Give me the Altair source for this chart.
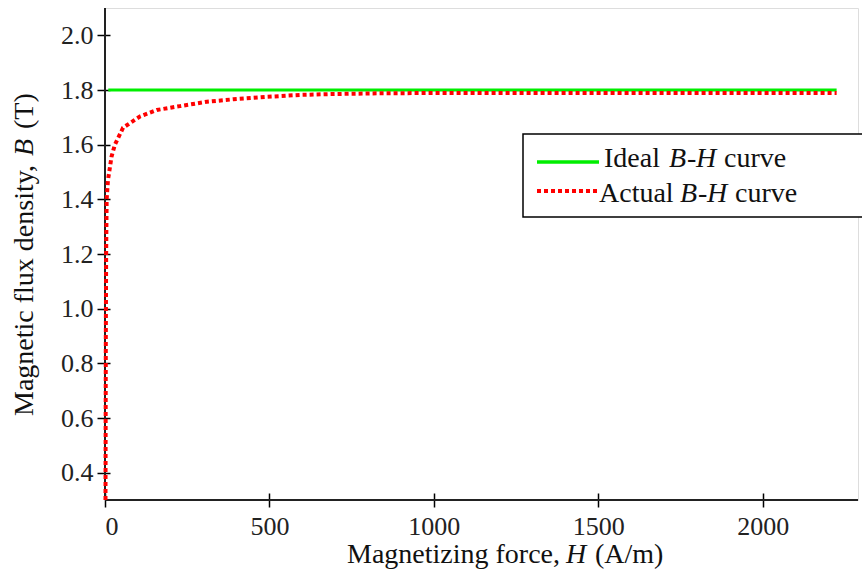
import altair as alt
import pandas as pd

# Magnetising force H (A/m) and flux density B (T)
ideal_H = [10, 2225]
ideal_B = [1.8, 1.8]

actual_H = [1.5, 2, 2.5, 3.5, 5, 9, 20, 30, 55, 106, 158, 228, 310, 390,
            492, 593, 684, 836, 1000, 1500, 2000, 2225]
actual_B = [0.30, 0.60, 0.90, 1.20, 1.40, 1.47, 1.557, 1.60, 1.662, 1.703,
            1.727, 1.741, 1.757, 1.766, 1.775, 1.782, 1.785, 1.788, 1.789,
            1.789, 1.789, 1.789]

x_ticks = [0, 500, 1000, 1500, 2000]
y_ticks = [0.4, 0.6, 0.8, 1.0, 1.2, 1.4, 1.6, 1.8, 2.0]

series_names = ["Ideal B-H curve", "Actual B-H curve"]
series_colors = ["#00ee00", "#ff0000"]

df = pd.concat([
    pd.DataFrame({"H": ideal_H, "B": ideal_B, "series": series_names[0], "order": range(len(ideal_H))}),
    pd.DataFrame({"H": actual_H, "B": actual_B, "series": series_names[1], "order": range(len(actual_H))}),
])

FONT = "Liberation Serif"
INK = "#111"
W, H = 753, 492

xs = alt.Scale(domain=[0, 2290], nice=False, zero=False)
ys = alt.Scale(domain=[0.3, 2.1], nice=False, zero=False)

# ticks cross the axis line: axes are shifted inward and the ticks lengthened
x_axis = alt.Axis(values=x_ticks, format="d", domain=False, grid=False, tickSize=14, offset=-7,
                  tickColor="black", tickWidth=1.5, labelFont=FONT, labelFontSize=26,
                  labelColor="#222", labelPadding=6, title=None)
y_axis = alt.Axis(values=y_ticks, format=".1f", domain=False, grid=False, tickSize=13, offset=-5,
                  tickColor="black", tickWidth=1.5, labelFont=FONT, labelFontSize=26,
                  labelColor="#222", labelPadding=4, title=None)

lines = alt.Chart(df).mark_line(clip=False).encode(
    x=alt.X("H:Q", scale=xs, axis=x_axis),
    y=alt.Y("B:Q", scale=ys, axis=y_axis),
    color=alt.Color("series:N", scale=alt.Scale(domain=series_names, range=series_colors), legend=None),
    strokeDash=alt.StrokeDash("series:N", scale=alt.Scale(domain=series_names, range=[[1, 0], [4, 3]]),
                              legend=None),
    strokeWidth=alt.StrokeWidth("series:N", scale=alt.Scale(domain=series_names, range=[3, 4]),
                                legend=None),
    detail="series:N",
    order="order:Q",
)

# axis lines
frame = pd.DataFrame({"H0": [0], "B0": [0.3]})
y_line = alt.Chart(frame).mark_rule(color="#222", strokeWidth=2).encode(x=alt.X("H0:Q", scale=xs))
x_line = alt.Chart(frame).mark_rule(color="#222", strokeWidth=2).encode(y=alt.Y("B0:Q", scale=ys))


def words(text, x, y, italic=False, size=28, angle=0):
    """A run of text; italic runs carry the symbols B and H."""
    props = dict(text=text, font=FONT, fontSize=size, align="left", baseline="alphabetic",
                 color=INK, fontStyle="italic" if italic else "normal")
    if angle:
        props["angle"] = angle
    return alt.Chart(frame).mark_text(**props).encode(x=alt.value(x), y=alt.value(y))


def rich(runs, y, size=28):
    return [words(t, x, y, italic=i, size=size) for t, x, i in runs]


# axis titles
x_title = rich([("Magnetizing force,", 242, False), ("H", 461, True), ("(A/m)", 490, False)], 555)
y_title = [
    words("Magnetic flux density,", -72, 408, angle=270),
    words("B", -72, 148, italic=True, angle=270),
    words("(T)", -72, 121, angle=270),
]

# legend
legend_box = alt.Chart(frame).mark_rect(fill="white", stroke="black", strokeWidth=1.5).encode(
    x=alt.value(418), x2=alt.value(820), y=alt.value(126), y2=alt.value(209))
key_ideal = alt.Chart(frame).mark_rule(color=series_colors[0], strokeWidth=3.5).encode(
    x=alt.value(432), x2=alt.value(494), y=alt.value(154))
key_actual = alt.Chart(frame).mark_rule(color=series_colors[1], strokeWidth=4, strokeDash=[4, 3]).encode(
    x=alt.value(432), x2=alt.value(494), y=alt.value(183))
legend_text = (
    rich([("Ideal", 499, False), ("B", 564, True), ("-", 582, False), ("H", 591, True),
          ("curve", 619, False)], 159)
    + rich([("Actual", 494, False), ("B", 575, True), ("-", 593, False), ("H", 602, True),
            ("curve", 630, False)], 194)
)

chart = alt.layer(
    y_line, x_line, lines, legend_box, key_ideal, key_actual, *legend_text, *x_title, *y_title
).properties(
    width=W, height=H,
    autosize=alt.AutoSizeParams(type="none"),
    padding={"left": 105, "top": 8, "right": 4, "bottom": 71},
).configure_view(strokeWidth=0).configure(background="white")

chart.save("out.html", embed_options={"renderer": "svg", "actions": False})
